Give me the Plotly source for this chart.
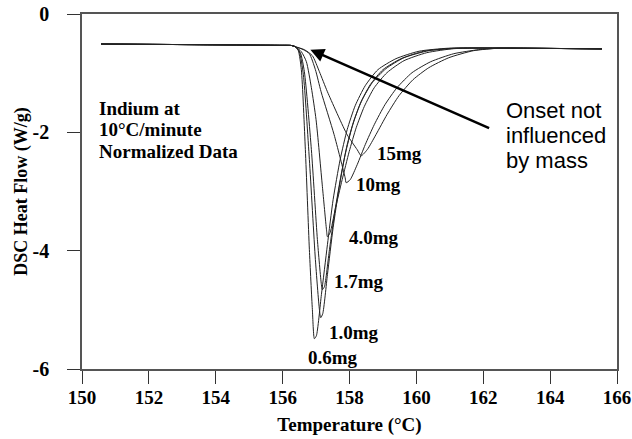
import plotly.graph_objects as go

# DSC melting curves of indium at 10 °C/min, normalized heat flow (W/g)

# shared flat baseline before onset and after the melt
base_left_t = [150.57, 153.52, 155.91, 156.26]
base_left_hf = [-0.507, -0.519, -0.529, -0.532]
base_right_t = [163.20, 165.55]
base_right_hf = [-0.578, -0.590]

# melting endotherm of each sample mass
t_06 = [156.38, 156.47, 156.56, 156.68, 156.80, 156.89, 156.95, 157.01, 157.16, 157.34,
        157.51, 157.72, 157.93, 158.17, 158.47, 158.85, 159.39, 160.08, 160.97]
hf_06 = [-0.553, -0.620, -0.941, -2.293, -3.984, -4.997, -5.488, -5.437, -4.743, -3.899,
         -3.138, -2.462, -1.955, -1.550, -1.212, -0.941, -0.755, -0.629, -0.578]

t_10 = [156.38, 156.50, 156.62, 156.80, 156.98, 157.10, 157.14, 157.20, 157.34, 157.51,
        157.69, 157.87, 158.08, 158.32, 158.62, 159.00, 159.54, 160.22, 161.12]
hf_10 = [-0.553, -0.637, -1.026, -2.462, -4.152, -4.997, -5.133, -5.065, -4.406, -3.612,
         -2.936, -2.378, -1.905, -1.516, -1.195, -0.941, -0.755, -0.629, -0.578]

t_17 = [156.38, 156.53, 156.65, 156.86, 157.04, 157.16, 157.19, 157.25, 157.40, 157.57,
        157.75, 157.93, 158.14, 158.38, 158.68, 159.09, 159.63, 160.37, 161.27]
hf_17 = [-0.553, -0.654, -0.975, -2.293, -3.814, -4.575, -4.659, -4.609, -3.984, -3.308,
         -2.716, -2.209, -1.786, -1.448, -1.161, -0.924, -0.739, -0.620, -0.578]

t_40 = [156.38, 156.56, 156.71, 156.86, 157.00, 157.19, 157.31, 157.34, 157.42, 157.57,
        157.78, 157.99, 158.20, 158.44, 158.74, 159.12, 159.63, 160.31, 161.12, 161.86]
hf_40 = [-0.553, -0.637, -0.806, -1.246, -1.786, -2.919, -3.638, -3.764, -3.696, -3.308,
         -2.801, -2.327, -1.922, -1.567, -1.246, -0.992, -0.789, -0.654, -0.586, -0.578]

t_100 = [156.38, 156.62, 156.80, 156.98, 157.15, 157.54, 157.87, 157.90, 158.02, 158.23,
         158.47, 158.74, 159.06, 159.42, 159.87, 160.43, 161.12, 161.86, 162.46]
hf_100 = [-0.553, -0.603, -0.671, -0.941, -1.314, -2.040, -2.767, -2.852, -2.801, -2.547,
          -2.209, -1.871, -1.533, -1.246, -0.992, -0.806, -0.671, -0.603, -0.578]

t_150 = [156.38, 156.65, 156.89, 157.10, 157.34, 157.93, 158.23, 158.35, 158.53, 158.79,
         159.12, 159.48, 159.90, 160.37, 160.97, 161.71, 162.46, 162.90]
hf_150 = [-0.553, -0.603, -0.705, -0.975, -1.314, -2.040, -2.293, -2.395, -2.293, -2.040,
          -1.702, -1.381, -1.110, -0.908, -0.739, -0.620, -0.578, -0.575]

sample_labels = ["0.6mg", "1.0mg", "1.7mg", "4.0mg", "10mg", "15mg"]
curves_t = [t_06, t_10, t_17, t_40, t_100, t_150]
curves_hf = [hf_06, hf_10, hf_17, hf_40, hf_100, hf_150]

# label anchor (temperature, heat flow) next to each peak
label_t = [157.51, 158.12, 158.29, 158.72, 158.88, 159.51]
label_hf = [-5.81, -5.39, -4.52, -3.78, -2.885, -2.36]

x_ticks = [150, 152, 154, 156, 158, 160, 162, 164, 166]
y_ticks = [0, -2, -4, -6]

SERIF = "Liberation Serif, Times New Roman, serif"
SANS = "Liberation Sans, Arial, sans-serif"

fig = go.Figure()
for name, t, hf in zip(sample_labels, curves_t, curves_hf):
    fig.add_trace(go.Scatter(
        x=base_left_t + t + base_right_t,
        y=base_left_hf + hf + base_right_hf,
        mode="lines", name=name,
        line=dict(color="#222222", width=1, shape="spline", smoothing=0.6),
        hoverinfo="x+y+name",
    ))

annotations = []
for name, lt, lh in zip(sample_labels, label_t, label_hf):
    annotations.append(dict(
        x=lt, y=lh, xref="x", yref="y", text=name, showarrow=False,
        xanchor="center", yanchor="middle",
        font=dict(family=SERIF, size=19, color="black", weight="bold"),
    ))

for line, hf in zip(["Indium at", "10°C/minute", "Normalized Data"], [-1.59, -1.96, -2.33]):
    annotations.append(dict(
        x=150.45, y=hf, xref="x", yref="y", text=line, showarrow=False,
        xanchor="left", yanchor="middle",
        font=dict(family=SERIF, size=19, color="black", weight="bold"),
    ))

for line, hf in zip(["Onset not", "influenced", "by mass"], [-1.63, -2.06, -2.48]):
    annotations.append(dict(
        x=162.61, y=hf, xref="x", yref="y", text=line, showarrow=False,
        xanchor="left", yanchor="middle",
        font=dict(family=SANS, size=22, color="black"),
    ))

# arrow pointing to the common onset
annotations.append(dict(
    x=156.83, y=-0.603, xref="x", yref="y",
    ax=162.22, ay=-1.94, axref="x", ayref="y",
    text="", showarrow=True, arrowhead=2, arrowsize=1.1, arrowwidth=2.5,
    arrowcolor="black", standoff=0,
))

fig.update_layout(
    width=632, height=439,
    margin=dict(l=82, r=15, t=14, b=70, autoexpand=False),
    paper_bgcolor="white", plot_bgcolor="white",
    showlegend=False,
    annotations=annotations,
    xaxis=dict(
        range=[150, 166], tickvals=x_ticks, ticktext=[str(v) for v in x_ticks],
        ticks="outside", ticklen=13, tickwidth=1.3, tickcolor="#333",
        showline=True, linecolor="#555", linewidth=1.5, mirror=True,
        showgrid=False, zeroline=False, automargin=False,
        ticklabeloverflow="allow",
        tickfont=dict(family=SERIF, size=19, color="black", weight="bold"),
        ticklabelstandoff=-3,
        title=dict(text="Temperature (°C)", standoff=11,
                   font=dict(family=SERIF, size=19, color="black", weight="bold")),
    ),
    yaxis=dict(
        range=[-6, 0], tickvals=y_ticks, ticktext=[str(v) for v in y_ticks],
        ticks="outside", ticklen=13, tickwidth=1.3, tickcolor="#333",
        showline=True, linecolor="#555", linewidth=1.5, mirror=True,
        showgrid=False, zeroline=False, automargin=False,
        ticklabeloverflow="allow",
        tickfont=dict(family=SERIF, size=20, color="black", weight="bold"),
        ticklabelstandoff=14,
        title=dict(text="DSC Heat Flow (W/g)", standoff=0,
                   font=dict(family=SERIF, size=18, color="black", weight="bold")),
    ),
)

fig.write_html("out.html")
